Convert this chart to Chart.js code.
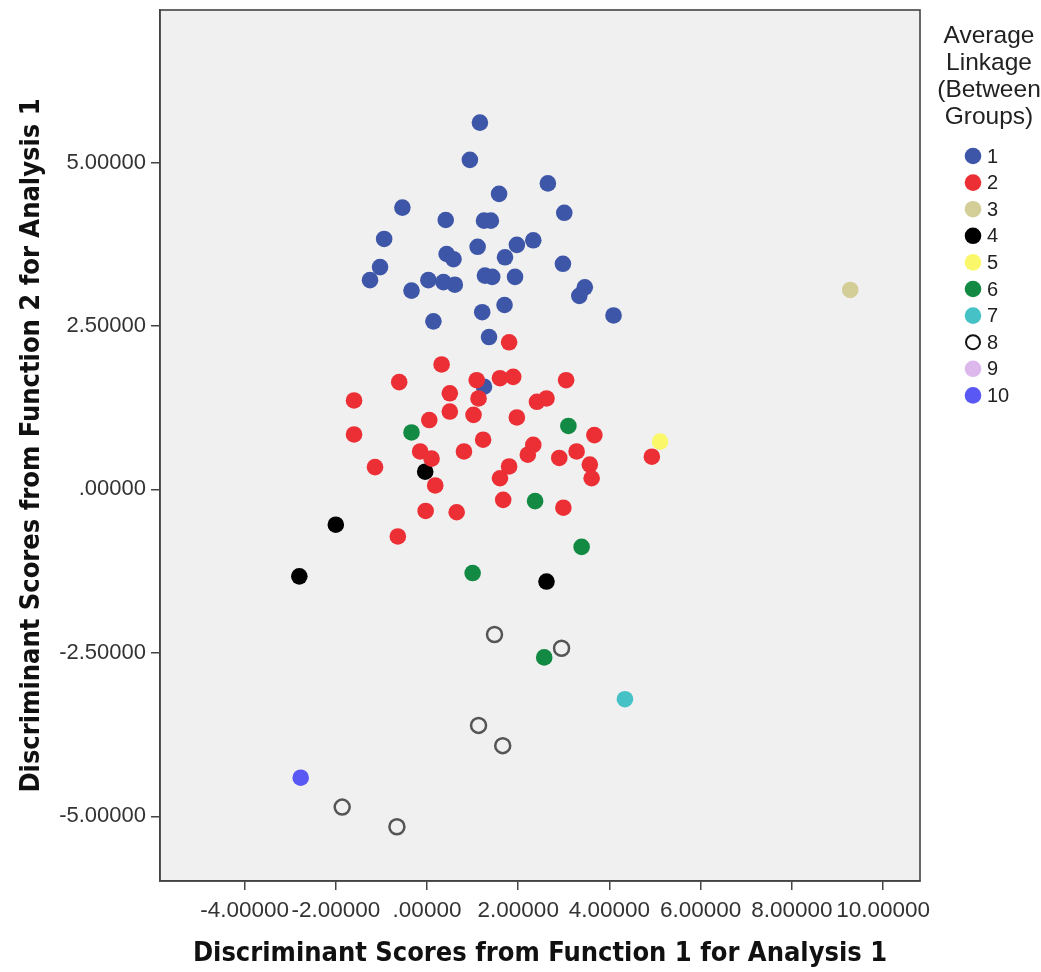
<!DOCTYPE html>
<html><head><meta charset="utf-8">
<script src="https://cdn.jsdelivr.net/npm/chart.js@4/dist/chart.umd.min.js"></script>
<style>html,body{margin:0;padding:0;background:#fff;}#wrap{width:1041px;height:972px;}</style>
</head><body><div id="wrap"><canvas id="c" width="1041" height="972"></canvas></div>
<script>
// ---- data ----
const clusterLabels = ['1','2','3','4','5','6','7','8','9','10'];
const clusterColors = ['#3d56a8','#ec2f35','#d3cd98','#000000','#faf76a','#138a43','#46c1c5','#555555','#dcb8ec','#5a58f5'];
const legendTitle = ['Average','Linkage','(Between','Groups)'];

const cluster1 = [[1.16,5.61],[0.94,5.04],[1.58,4.52],[2.65,4.68],[-0.54,4.31],[0.41,4.12],[1.25,4.11],[1.40,4.11],
  [3.01,4.23],[-0.94,3.83],[1.11,3.71],[0.43,3.60],[0.58,3.52],[1.97,3.74],[2.33,3.81],[1.71,3.55],[2.98,3.45],
  [-1.03,3.40],[-1.25,3.20],[-0.34,3.04],[0.03,3.20],[0.36,3.17],[0.61,3.13],[1.27,3.27],[1.43,3.25],[1.93,3.25],
  [3.46,3.09],[3.34,2.96],[4.09,2.66],[1.21,2.71],[1.70,2.82],[0.14,2.57],[1.36,2.33],[1.25,1.57]];
const cluster2 = [[1.80,2.25],[0.32,1.91],[-0.61,1.64],[-1.60,1.36],[-1.60,0.84],[-1.14,0.34],[0.05,1.06],[0.50,1.47],
  [0.50,1.19],[1.09,1.67],[1.13,1.39],[1.02,1.14],[1.60,1.70],[1.89,1.72],[3.05,1.67],[2.41,1.34],[2.62,1.39],
  [1.97,1.10],[3.67,0.83],[4.93,0.50],[-0.15,0.58],[0.10,0.47],[0.18,0.06],[0.81,0.58],[1.23,0.76],[2.33,0.68],
  [2.21,0.53],[1.80,0.35],[1.60,0.17],[2.90,0.48],[3.28,0.58],[3.57,0.38],[3.61,0.17],[1.67,-0.16],[2.99,-0.28],
  [-0.03,-0.33],[0.65,-0.35],[-0.64,-0.72]];
const cluster3 = [[9.28,3.05]];
const cluster4 = [[-0.04,0.27],[-2.00,-0.54],[-2.80,-1.33],[2.62,-1.41]];
const cluster5 = [[5.11,0.73]];
const cluster6 = [[-0.34,0.87],[3.10,0.97],[2.37,-0.18],[3.39,-0.88],[1.00,-1.28],[2.57,-2.57]];
const cluster7 = [[4.34,-3.21]];
const cluster8 = [[1.48,-2.22],[2.95,-2.43],[1.13,-3.61],[1.66,-3.92],[-1.86,-4.86],[-0.66,-5.16]];
const cluster9 = [];
const cluster10 = [[-2.77,-4.41]];

const xTickValues = [-4,-2,0,2,4,6,8,10];
const xTickLabels = ['-4.00000','-2.00000','.00000','2.00000','4.00000','6.00000','8.00000','10.00000'];
const yTickValues = [-5,-2.5,0,2.5,5];
const yTickLabels = ['-5.00000','-2.50000','.00000','2.50000','5.00000'];
const xTitle = 'Discriminant Scores from Function 1 for Analysis 1';
const yTitle = 'Discriminant Scores from Function 2 for Analysis 1';

// ---- build datasets ----
const clusters = [cluster1,cluster2,cluster3,cluster4,cluster5,cluster6,cluster7,cluster8,cluster9,cluster10];
const drawOrder = [10,5,9,8,7,6,4,3,2,1]; // higher = drawn earlier (below)
const datasets = clusters.map((pts,i)=>{
  const open = i===7;
  return {
    label: clusterLabels[i],
    data: pts.map(p=>({x:p[0],y:p[1]})),
    backgroundColor: open ? 'rgba(0,0,0,0)' : clusterColors[i],
    borderColor: clusterColors[i],
    borderWidth: open ? 2.5 : 0,
    pointRadius: open ? 7.5 : 8.3,
    pointHoverRadius: open ? 7.5 : 8.3,
    order: drawOrder[i],
    hollow: open
  };
});

const FONT = "'Liberation Sans', Arial, sans-serif";
const TITLEFONT = "'Liberation Sans Narrow', 'DejaVu Sans Condensed', 'Liberation Sans', Arial, sans-serif";

const framePlugin = {
  id:'frame',
  beforeDraw(chart){
    const {ctx, chartArea:a} = chart;
    ctx.save(); ctx.fillStyle='#f0f0f0';
    ctx.fillRect(a.left,a.top,a.right-a.left,a.bottom-a.top); ctx.restore();
  },
  afterDraw(chart){
    const {ctx, chartArea:a} = chart;
    ctx.save(); ctx.strokeStyle='#444'; ctx.lineWidth=1.6;
    ctx.strokeRect(a.left,a.top,a.right-a.left,a.bottom-a.top);
    // legend
    ctx.fillStyle='#222'; ctx.textAlign='center'; ctx.textBaseline='middle';
    ctx.font = "24.5px "+FONT;
    legendTitle.forEach((t,i)=>ctx.fillText(t, 989, 36+i*27));
    ctx.font = "20px "+FONT; ctx.textAlign='left';
    chart.data.datasets.forEach((ds,i)=>{
      const y = 156 + i*26.6;
      ctx.beginPath(); ctx.arc(973,y,ds.hollow?7:8.3,0,Math.PI*2);
      if (ds.hollow){ ctx.strokeStyle='#111'; ctx.lineWidth=2; ctx.stroke(); }
      else { ctx.fillStyle=ds.borderColor; ctx.fill(); }
      ctx.fillStyle='#222';
      ctx.fillText(ds.label, 987, y+1);
    });
    ctx.restore();
  }
};

new Chart(document.getElementById('c'), {
  type:'scatter',
  data:{datasets},
  plugins:[framePlugin],
  options:{
    responsive:false, animation:false, devicePixelRatio:1,
    layout:{padding:{left:0,right:121,top:7,bottom:0}},
    plugins:{legend:{display:false}, tooltip:{enabled:false}},
    scales:{
      x:{
        type:'linear', min:-5.855, max:10.81,
        afterBuildTicks(s){ s.ticks = xTickValues.map(v=>({value:v})); },
        afterFit(s){ s.height = 91; s.paddingLeft = 0; s.paddingRight = 0; },
        ticks:{ callback:(v)=>xTickLabels[xTickValues.indexOf(v)] ?? '', font:{family:FONT,size:22.5}, color:'#333', padding:7, maxRotation:0, autoSkip:false },
        grid:{ drawOnChartArea:false, drawTicks:true, tickLength:9, color:'#444', lineWidth:1.5 },
        border:{ display:true, color:'#444', width:1.5 },
        title:{ display:true, text:xTitle, font:{family:TITLEFONT,size:27,weight:'bold'}, color:'#111', padding:{top:0,bottom:2} }
      },
      y:{
        type:'linear', min:-5.99, max:7.332,
        afterBuildTicks(s){ s.ticks = yTickValues.map(v=>({value:v})); },
        afterFit(s){ s.width = 160; s.paddingTop = 0; s.paddingBottom = 0; },
        ticks:{ callback:(v)=>yTickLabels[yTickValues.indexOf(v)] ?? '', font:{family:FONT,size:22}, color:'#333', padding:5, autoSkip:false },
        grid:{ drawOnChartArea:false, drawTicks:true, tickLength:9, color:'#444', lineWidth:1.5 },
        border:{ display:true, color:'#444', width:1.5 },
        title:{ display:true, text:yTitle, font:{family:TITLEFONT,size:27,weight:'bold'}, color:'#111', padding:{top:16,bottom:0} }
      }
    }
  }
});
</script></body></html>
